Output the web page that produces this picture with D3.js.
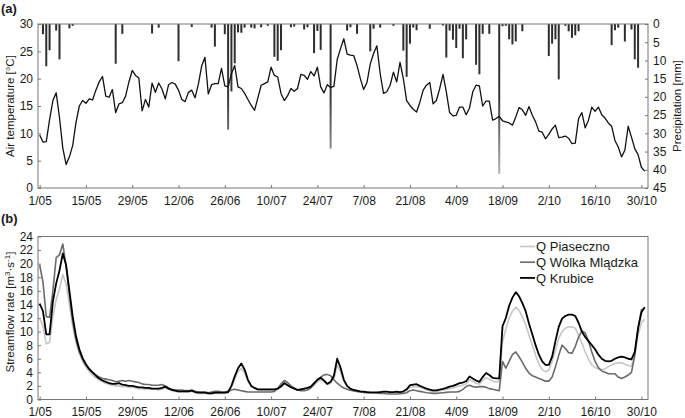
<!DOCTYPE html>
<html>
<head>
<meta charset="utf-8">
<script src="https://cdn.jsdelivr.net/npm/d3@7"></script>
<style>
body { margin: 0; background: #fff; }
text { font-family: "Liberation Sans", Arial, sans-serif; fill: #1a1a1a; }
</style>
</head>
<body>
<div id="chart"></div>
<script>
// day index 0 = 1 May
var tickDays = [0, 14, 28, 42, 56, 70, 84, 98, 112, 126, 140, 154, 168, 182];
var tickLabels = ["1/05", "15/05", "29/05", "12/06", "26/06", "10/07", "24/07", "7/08", "21/08", "4/09", "18/09", "2/10", "16/10", "30/10"];

var tempTicks = [0, 5, 10, 15, 20, 25, 30];
var precipTicks = [0, 5, 10, 15, 20, 25, 30, 35, 40, 45];
var flowTicks = [0, 2, 4, 6, 8, 10, 12, 14, 16, 18, 20, 22, 24];

// daily air temperature [°C]
var airTemp = [
  9.7, 8.4, 8.5, 12.5, 16.0, 17.4, 12.9, 7.3, 4.3, 5.7,
  7.8, 12.0, 15.0, 16.0, 15.5, 16.3, 16.1, 17.9, 19.4, 20.4,
  16.8, 16.6, 18.0, 13.8, 15.4, 15.6, 16.8, 19.4, 21.5, 20.6,
  20.1, 14.1, 16.2, 14.8, 19.2, 17.5, 19.2, 18.1, 16.3, 18.9,
  19.3, 19.0, 17.9, 16.2, 15.8, 17.5, 17.9, 16.5, 19.0, 22.3,
  23.9, 17.2, 18.9, 19.1, 19.1, 21.9, 18.7, 18.5, 20.9, 22.4,
  18.5, 18.2, 17.3, 16.2, 15.1, 14.2, 16.5, 18.8, 19.1, 19.4,
  22.1, 20.6, 20.3, 17.3, 16.0, 16.9, 18.2, 17.7, 18.2, 20.8,
  20.6, 19.9, 21.3, 20.5, 22.1, 18.5, 17.4, 18.9, 18.4, 18.6,
  23.5, 25.5, 27.3, 24.5, 24.3, 24.2, 22.4, 20.0, 18.0, 19.3,
  22.7, 24.6, 26.0, 20.9, 17.3, 17.6, 18.8, 21.2, 19.4, 23.0,
  20.0, 16.0, 15.1, 14.4, 13.9, 15.7, 17.9, 18.8, 19.3, 15.4,
  16.0, 18.2, 20.8, 17.6, 13.8, 13.2, 13.3, 14.8, 14.8, 13.4,
  14.6, 17.6, 18.8, 18.7, 15.0, 15.9, 15.9, 12.4, 12.7, 13.1,
  12.3, 12.1, 11.9, 11.5, 13.0, 14.7, 14.3, 13.3, 14.9, 13.3,
  12.1, 10.4, 10.2, 9.0, 9.8, 10.8, 11.5, 9.2, 9.3, 9.5,
  9.1, 8.1, 8.2, 12.7, 13.8, 11.0, 12.4, 14.8, 14.0, 14.8,
  13.4, 12.8, 11.9, 11.3, 8.7, 7.5, 5.7, 6.9, 11.3, 9.3,
  7.2, 6.1, 3.8, 3.1
];

// days with rain and daily precipitation [mm]
var precipDays = [1, 2, 3, 5, 6, 9, 10, 23, 25, 34, 36, 42, 46, 52, 53, 56, 57, 58, 59, 60,
  61, 62, 64, 65, 67, 69, 71, 72, 73, 76, 77, 80, 81, 83, 84, 85, 88, 93, 94, 96,
  100, 101, 103, 107, 110, 111, 112, 113, 114, 118, 122, 123, 124, 125, 126, 127, 128, 129, 132, 133,
  134, 136, 139, 140, 141, 142, 143, 144, 146, 154, 155, 156, 157, 159, 160, 161, 162, 163, 173, 174,
  175, 177, 179, 180, 181];
var precipMm = [2.8, 11.6, 7.2, 1.8, 9.7, 1.2, 0.5, 10.9, 2.7, 2.6, 1.0, 10.2, 0.8, 1.0, 6.2, 2.8, 29.0, 18.5, 10.8, 2.3,
  2.4, 1.0, 1.0, 1.2, 0.9, 0.5, 9.0, 10.1, 7.2, 0.9, 0.7, 1.5, 0.9, 8.0, 1.9, 7.1, 34.2, 1.8, 0.9, 2.7,
  7.5, 1.3, 1.0, 0.5, 7.3, 14.5, 5.4, 1.0, 1.7, 1.3, 0.4, 9.2, 1.8, 4.3, 6.6, 1.3, 9.4, 4.2, 11.2, 13.8,
  2.7, 2.7, 41.1, 0.6, 0.5, 4.2, 5.6, 4.8, 2.0, 8.8, 5.4, 4.2, 15.2, 0.5, 2.0, 3.8, 3.1, 2.0, 5.8, 1.7,
  1.0, 4.8, 1.5, 9.7, 12.0];

// daily streamflow [m3/s]
var qPiaseczno = [
  11.9, 10.8, 8.2, 8.4, 12.2, 14.7, 16.3, 18.4, 17.0, 14.0,
  10.8, 8.4, 6.8, 5.6, 4.8, 4.1, 3.6, 3.2, 2.9, 2.6,
  2.4, 2.2, 2.1, 2.0, 2.0, 1.9, 1.9, 1.8, 1.8, 1.7,
  1.6, 1.6, 1.5, 1.5, 1.5, 1.5, 1.4, 1.5, 1.7, 1.5,
  1.3, 1.2, 1.1, 1.1, 1.1, 1.1, 1.2, 1.0, 0.9, 0.9,
  0.9, 0.85, 0.85, 0.9, 0.9, 0.9, 0.9, 1.0, 1.8, 3.0,
  4.1, 4.6, 3.9, 2.7, 1.9, 1.6, 1.4, 1.35, 1.35, 1.35,
  1.35, 1.4, 1.6, 2.2, 2.7, 2.3, 1.9, 1.6, 1.4, 1.4,
  1.5, 1.6, 1.8, 2.2, 2.6, 2.9, 2.6, 2.2, 2.4, 3.1,
  5.0, 4.1, 2.7, 1.9, 1.5, 1.3, 1.2, 1.1, 1.05, 1.0,
  1.0, 1.0, 1.0, 1.0, 1.05, 1.05, 1.0, 1.0, 1.05, 1.0,
  1.1, 1.3, 1.8, 1.9, 1.9, 1.8, 1.6, 1.4, 1.3, 1.2,
  1.2, 1.3, 1.4, 1.5, 1.6, 1.7, 1.9, 2.0, 2.1, 2.3,
  2.9, 2.7, 2.4, 2.3, 2.8, 3.2, 3.0, 2.7, 2.6, 2.7,
  8.5, 10.4, 12.0, 13.0, 13.6, 13.1, 12.2, 11.0, 9.5, 8.0,
  6.5, 5.2, 4.4, 4.1, 4.3, 5.6, 7.3, 9.0, 10.0, 10.5,
  10.7, 10.7, 10.5, 9.5, 8.3, 7.0, 5.9, 5.1, 4.7, 4.5,
  4.4, 4.5, 4.8, 5.1, 5.3, 5.4, 5.4, 5.2, 5.0, 4.9,
  6.5, 9.5, 11.3, 11.8
];
var qWolka = [
  19.8, 17.3, 12.2, 12.1, 16.0, 20.9, 21.3, 22.9, 19.6, 15.5,
  11.5, 8.8, 7.0, 5.9, 5.0, 4.4, 4.0, 3.6, 3.3, 3.1,
  3.0, 2.9, 2.8, 2.6, 2.7, 2.8, 2.7, 2.8, 2.7, 2.6,
  2.5, 2.3, 2.2, 2.2, 2.1, 2.1, 2.1, 2.2, 2.0, 1.7,
  1.5, 1.4, 1.4, 1.4, 1.3, 1.3, 1.4, 1.2, 1.1, 1.1,
  1.1, 1.0, 1.1, 1.2, 1.2, 1.1, 1.1, 1.2, 1.4, 1.5,
  1.4, 1.3, 1.2, 1.1, 1.1, 1.1, 1.1, 1.1, 1.1, 1.1,
  1.1, 1.2, 1.6, 2.3, 2.8, 2.5, 2.0, 1.7, 1.4, 1.3,
  1.3, 1.4, 1.7, 2.2, 2.9, 3.3, 3.6, 3.7, 3.5, 2.9,
  2.4, 2.0, 1.7, 1.5, 1.35, 1.25, 1.2, 1.1, 1.05, 1.0,
  1.0, 1.0, 0.95, 0.9, 0.9, 0.85, 0.8, 0.8, 0.8, 0.85,
  0.9, 1.0, 1.3, 1.4, 1.3, 1.2, 1.1, 1.0, 0.95, 0.9,
  0.9, 0.95, 1.0, 1.05, 1.1, 1.1, 1.1, 1.2, 1.5, 1.9,
  2.1, 1.9, 1.8, 1.9, 1.9, 1.8, 1.6, 1.5, 1.4, 1.3,
  5.6, 4.6, 5.6, 6.6, 7.0, 6.3, 5.5, 4.6, 3.9, 3.5,
  3.3, 3.1, 2.9, 2.7, 2.7, 3.3, 4.8, 6.5, 8.0, 7.5,
  6.9, 6.8, 7.8, 9.2, 10.1, 9.8, 8.6, 7.0, 5.6, 4.7,
  4.2, 4.0, 3.8, 3.8, 3.8, 3.3, 3.1, 3.3, 3.6, 4.0,
  6.5, 10.5, 13.2, 13.4
];
var qKrubice = [
  14.1, 13.0, 9.6, 9.6, 14.4, 17.1, 19.0, 21.5, 19.8, 16.0,
  12.2, 9.3, 7.4, 6.1, 5.2, 4.5, 4.0, 3.5, 3.1, 2.8,
  2.6, 2.4, 2.3, 2.3, 2.4, 2.2, 2.1, 2.0, 2.0, 1.9,
  1.8, 1.8, 1.7, 1.7, 1.6, 1.6, 1.6, 1.7, 1.9, 1.6,
  1.4, 1.3, 1.2, 1.2, 1.2, 1.2, 1.3, 1.1, 1.0, 1.0,
  1.0, 0.9, 0.9, 1.0, 1.0, 1.0, 1.0, 1.1, 2.0, 3.4,
  4.6, 5.3, 4.4, 2.9, 2.0, 1.7, 1.5, 1.5, 1.5, 1.5,
  1.5, 1.5, 1.6, 1.9, 2.4, 2.1, 1.8, 1.6, 1.4, 1.5,
  1.6, 1.7, 1.9, 2.4, 2.9, 3.2, 2.8, 2.3, 2.6, 3.5,
  6.0, 4.7, 2.9, 2.0, 1.6, 1.4, 1.3, 1.2, 1.15, 1.1,
  1.05, 1.05, 1.05, 1.1, 1.15, 1.15, 1.1, 1.1, 1.15, 1.1,
  1.2, 1.5, 2.1, 2.2, 2.25, 2.0, 1.8, 1.6, 1.45, 1.35,
  1.35, 1.45, 1.55, 1.7, 1.9, 2.0, 2.2, 2.4, 2.5, 2.7,
  3.4, 3.1, 2.8, 2.6, 3.3, 3.9, 3.6, 3.2, 3.1, 3.1,
  10.8, 12.0, 13.8, 15.0, 15.8, 15.2, 14.2, 13.0, 11.2, 9.6,
  8.0, 6.6, 5.6, 5.1, 5.1, 6.3, 8.6, 10.7, 11.9, 12.3,
  12.5, 12.5, 12.3, 11.3, 10.0, 9.2, 8.6, 8.0, 7.4, 6.6,
  6.0, 5.7, 5.6, 5.7, 6.0, 6.2, 6.3, 6.2, 6.0, 5.9,
  7.0, 10.5, 12.8, 13.6
];

var seriesNames = ["Q Piaseczno", "Q Wólka Mlądzka", "Q Krubice"];
var seriesColors = ["#c6c6c6", "#6b6b6b", "#000000"];
var seriesWidths = [1.6, 1.6, 1.8];

var svgWidth = 685;
var svgHeight = 418;

var plotLeft = 38;
var plotRight = 648;
var topA = 24, bottomA = 188;
var topB = 236.5, bottomB = 399.5;

var svg = d3.select("#chart")
  .append("svg")
  .attr("width", svgWidth)
  .attr("height", svgHeight);

// gradient for the rain bars (long ones fade out to grey)
var grad = svg.append("defs").append("linearGradient")
  .attr("id", "rainGrad")
  .attr("gradientUnits", "userSpaceOnUse")
  .attr("x1", 0).attr("y1", topA).attr("x2", 0).attr("y2", bottomA);
grad.append("stop").attr("offset", "0%").attr("stop-color", "#2a2a2a");
grad.append("stop").attr("offset", "45%").attr("stop-color", "#3a3a3a");
grad.append("stop").attr("offset", "100%").attr("stop-color", "#c8c8c8");

var xScale = d3.scaleLinear()
  .domain([-0.5, 184])
  .range([plotLeft, plotRight]);

var yTemp = d3.scaleLinear().domain([0, 30]).range([bottomA, topA]);
var yPrecip = d3.scaleLinear().domain([0, 45]).range([topA, bottomA]);
var yFlow = d3.scaleLinear().domain([0, 24]).range([bottomB, topB]);

function styleAxis(g) {
  g.select(".domain").remove();
  g.selectAll(".tick line").attr("stroke", "#777");
  g.selectAll(".tick text")
    .attr("font-size", 12)
    .attr("font-family", "'Liberation Sans', Arial, sans-serif")
    .attr("fill", "#1a1a1a");
}

function xAxis(yPos) {
  var g = svg.append("g")
    .attr("transform", `translate(0, ${yPos})`)
    .call(d3.axisBottom(xScale)
      .tickValues(tickDays)
      .tickFormat((d, i) => tickLabels[i])
      .tickSizeInner(-3)
      .tickSizeOuter(0)
      .tickPadding(8));
  styleAxis(g);
  // date labels are set tighter in the original figure
  g.selectAll(".tick text")
    .attr("font-family", "'Liberation Sans Narrow', 'Liberation Sans', Arial, sans-serif");
}

// ---------- panel (a) ----------
svg.append("g")
  .attr("transform", `translate(${plotLeft}, 0)`)
  .call(d3.axisLeft(yTemp).tickValues(tempTicks).tickSizeInner(-3).tickSizeOuter(0).tickPadding(5))
  .call(styleAxis);

svg.append("g")
  .attr("transform", `translate(${plotRight}, 0)`)
  .call(d3.axisRight(yPrecip).tickValues(precipTicks).tickSizeInner(-3).tickSizeOuter(0).tickPadding(5))
  .call(styleAxis);

xAxis(bottomA);

svg.append("g").selectAll("rect")
  .data(precipDays)
  .enter()
  .append("rect")
  .attr("x", (d) => xScale(d) - 1)
  .attr("y", topA)
  .attr("width", 2)
  .attr("height", (d, i) => yPrecip(precipMm[i]) - topA)
  .attr("fill", "url(#rainGrad)");

var tempLine = d3.line()
  .x((d, i) => xScale(i))
  .y((d) => yTemp(d));

svg.append("path")
  .datum(airTemp)
  .attr("d", tempLine)
  .attr("fill", "none")
  .attr("stroke", "#111")
  .attr("stroke-width", 1.3)
  .attr("stroke-linejoin", "round");

svg.append("rect")
  .attr("x", plotLeft).attr("y", topA)
  .attr("width", plotRight - plotLeft).attr("height", bottomA - topA)
  .attr("fill", "none").attr("stroke", "#777").attr("stroke-width", 1);

svg.append("text")
  .attr("x", 1).attr("y", 13)
  .attr("font-size", 13).attr("font-weight", "bold")
  .text("(a)");

svg.append("text")
  .attr("transform", "translate(14, 106) rotate(-90)")
  .attr("text-anchor", "middle")
  .attr("font-size", 11.5)
  .text("Air temperature [°C]");

svg.append("text")
  .attr("transform", "translate(681, 106) rotate(-90)")
  .attr("text-anchor", "middle")
  .attr("font-size", 11.5)
  .text("Precipitation [mm]");

// ---------- panel (b) ----------
svg.append("g")
  .attr("transform", `translate(${plotLeft}, 0)`)
  .call(d3.axisLeft(yFlow).tickValues(flowTicks).tickSizeInner(-3).tickSizeOuter(0).tickPadding(5))
  .call(styleAxis);

xAxis(bottomB);

var flowLine = d3.line()
  .x((d, i) => xScale(i))
  .y((d) => yFlow(d));

var flowSeries = [qPiaseczno, qWolka, qKrubice];

svg.append("g").selectAll("path")
  .data(flowSeries)
  .enter()
  .append("path")
  .attr("d", flowLine)
  .attr("fill", "none")
  .attr("stroke", (d, i) => seriesColors[i])
  .attr("stroke-width", (d, i) => seriesWidths[i])
  .attr("stroke-linejoin", "round");

svg.append("rect")
  .attr("x", plotLeft).attr("y", topB)
  .attr("width", plotRight - plotLeft).attr("height", bottomB - topB)
  .attr("fill", "none").attr("stroke", "#777").attr("stroke-width", 1);

// legend
var legend = svg.append("g").selectAll("g")
  .data(seriesNames)
  .enter()
  .append("g")
  .attr("transform", (d, i) => `translate(520, ${246.5 + i * 15.7})`);

legend.append("line")
  .attr("x1", 0).attr("x2", 15)
  .attr("stroke", (d, i) => seriesColors[i])
  .attr("stroke-width", (d, i) => seriesWidths[i]);

legend.append("text")
  .attr("x", 16)
  .attr("dy", "0.36em")
  .attr("font-size", 13)
  .text((d) => d);

svg.append("text")
  .attr("x", 1).attr("y", 223)
  .attr("font-size", 13).attr("font-weight", "bold")
  .text("(b)");

var flowLabel = svg.append("text")
  .attr("transform", "translate(14, 312) rotate(-90)")
  .attr("text-anchor", "middle")
  .attr("font-size", 11.5);
flowLabel.append("tspan").text("Streamflow rate [m");
flowLabel.append("tspan").attr("dy", -4).attr("font-size", 8).text("3");
flowLabel.append("tspan").attr("dy", 4).text("·s");
flowLabel.append("tspan").attr("dy", -4).attr("font-size", 8).text("-1");
flowLabel.append("tspan").attr("dy", 4).text("]");
</script>
</body>
</html>
